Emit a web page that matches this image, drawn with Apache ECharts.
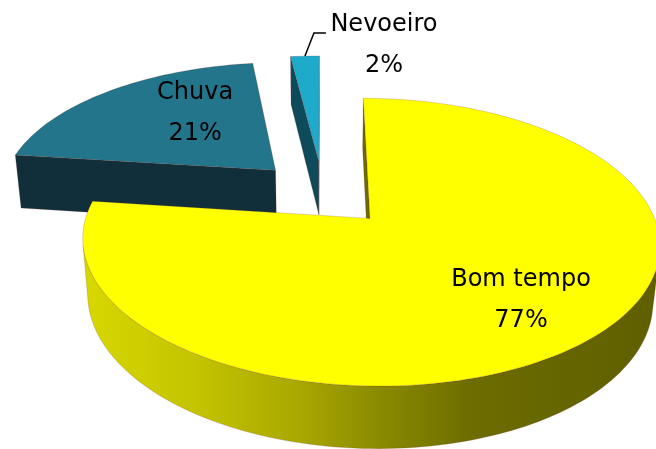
<!DOCTYPE html>
<html>
<head>
<meta charset="utf-8">
<script src="https://cdn.jsdelivr.net/npm/echarts@6/dist/echarts.min.js"></script>
<style>
  html, body { margin: 0; padding: 0; background: #fff; }
  #box { width: 656px; height: 449px; }
</style>
</head>
<body>
<div id="box"></div>
<script>
// data
const categories = ["Bom tempo", "Chuva", "Nevoeiro"];
const values = [77, 21, 2];

// colours: top face, cut face, outer wall
const topColors = ["#ffff00", "#22758a", "#1eaacb"];
const cutColors = ["#6a6a00", "#112f3a", "#0e4b5a"];
const wallColors = [
  {
    type: "linear", x: 80, y: 0, x2: 656, y2: 0, global: true,
    colorStops: [
      { offset: 0, color: "#d8d800" },
      { offset: 0.2, color: "#c4c400" },
      { offset: 0.38, color: "#a8a800" },
      { offset: 0.5, color: "#8e8e00" },
      { offset: 0.68, color: "#6c6c00" },
      { offset: 1, color: "#5f5f00" }
    ]
  },
  "#16404c",
  "#136579"
];

// camera / layout of the tilted pie
const cam = {
  cx: 323, cy: 193, f: 1515, D: 5.49,
  alpha: 28.5 * Math.PI / 180,
  H: 0.23, explode: 0.25
};
// where each label sits (radius on the slice, pixel nudge)
const labelPlace = [
  { r: 0.71, dx: 0, dy: 0 },
  { r: 0.5, dx: 7, dy: -15 },
  { outside: true }
];

let total = values.reduce((a, b) => a + b, 0);
let starts = [];
values.reduce((acc, v, i) => { starts[i] = acc; return acc + v; }, 0);

function project(X, Z, Y) {
  let sa = Math.sin(cam.alpha), ca = Math.cos(cam.alpha);
  let up = Y * ca - Z * sa,
    d = cam.D - Y * sa - Z * ca;
  return [cam.cx + cam.f * X / d, cam.cy - cam.f * up / d];
}

function area(pts) {
  let s = 0;
  for (let i = 0; i < pts.length; i++) {
    let a = pts[i], b = pts[(i + 1) % pts.length];
    s += a[0] * b[1] - b[0] * a[1];
  }
  return s / 2;
}

function renderItem(params, api) {
  let i = params.dataIndex,
    v = api.value(0),
    H = cam.H,
    t0 = starts[i] / total * Math.PI * 2,
    t1 = t0 + v / total * Math.PI * 2,
    mid = (t0 + t1) / 2,
    c = [cam.explode * Math.sin(mid), -cam.explode * Math.cos(mid)],
    pt = (t, r, Y) => project(c[0] + r * Math.sin(t), c[1] - r * Math.cos(t), Y),
    n = Math.max(2, Math.ceil((t1 - t0) / (Math.PI / 120))),
    ts = [],
    z = Math.round((c[1] + 2) * 100) * 10, // nearer slices on top
    children = [];

  for (let k = 0; k <= n; k++) ts.push(t0 + (t1 - t0) * k / n);

  let edge = { stroke: "rgba(120,50,40,0.35)", lineWidth: 0.6 };

  //~~ cut faces
  let faces = [
    [pt(t0, 0, 0), pt(t0, 0, -H), pt(t0, 1, -H), pt(t0, 1, 0)],
    [pt(t1, 0, 0), pt(t1, 1, 0), pt(t1, 1, -H), pt(t1, 0, -H)]
  ];
  faces.forEach(f => {
    if (area(f) > 0) {
      children.push({
        type: "polygon", z2: z,
        shape: { points: f },
        style: Object.assign({ fill: cutColors[i] }, edge)
      });
    }
  });

  //~~ outer wall, visible runs only
  let run = null, runs = [];
  for (let k = 0; k < n; k++) {
    let q = [pt(ts[k + 1], 1, 0), pt(ts[k], 1, 0), pt(ts[k], 1, -H), pt(ts[k + 1], 1, -H)];
    if (area(q) > 0) {
      if (!run) { run = [k]; runs.push(run); }
      run[1] = k + 1;
    } else {
      run = null;
    }
  }
  runs.forEach(r => {
    let top = [], bot = [];
    for (let k = r[0]; k <= r[1]; k++) {
      top.push(pt(ts[k], 1, 0));
      bot.unshift(pt(ts[k], 1, -H));
    }
    children.push({
      type: "polygon", z2: z + 1,
      shape: { points: top.concat(bot) },
      style: Object.assign({ fill: wallColors[i] }, edge)
    });
  });

  //~~ top face
  let topPts = [pt(t0, 0, 0)];
  ts.forEach(t => topPts.push(pt(t, 1, 0)));
  children.push({
    type: "polygon", z2: z + 2,
    shape: { points: topPts },
    style: Object.assign({ fill: topColors[i] }, edge)
  });

  //~~ label
  let text = categories[i] + "\n" + Math.round(v / total * 100) + "%",
    lp = labelPlace[i],
    font = { fill: "#000", fontSize: 24, fontFamily: "DejaVu Sans", lineHeight: 41, align: "center", verticalAlign: "middle" };
  if (lp.outside) {
    let p0 = pt(mid, 1.0, 0),
      p1 = [p0[0] + 9, p0[1] - 23],
      p2 = [p1[0] + 12, p1[1]];
    children.push({
      type: "polyline", z2: 90000,
      shape: { points: [p0, p1, p2] },
      style: { stroke: "#000", lineWidth: 1.5, fill: null }
    });
    children.push({
      type: "text", z2: 100000,
      style: Object.assign({ text: text, x: p2[0] + 58, y: p2[1] + 12 }, font)
    });
  } else {
    let p = pt(mid, lp.r, 0);
    children.push({
      type: "text", z2: 100000,
      style: Object.assign({ text: text, x: p[0] + lp.dx, y: p[1] + lp.dy }, font)
    });
  }

  return { type: "group", children: children };
}

let chart = echarts.init(document.getElementById("box"), null, { renderer: "canvas" });
chart.setOption({
  animation: false,
  series: [{
    type: "custom",
    coordinateSystem: "none",
    silent: true,
    renderItem: renderItem,
    data: values.map((v, i) => ({ name: categories[i], value: [v] }))
  }]
});
</script>
</body>
</html>
